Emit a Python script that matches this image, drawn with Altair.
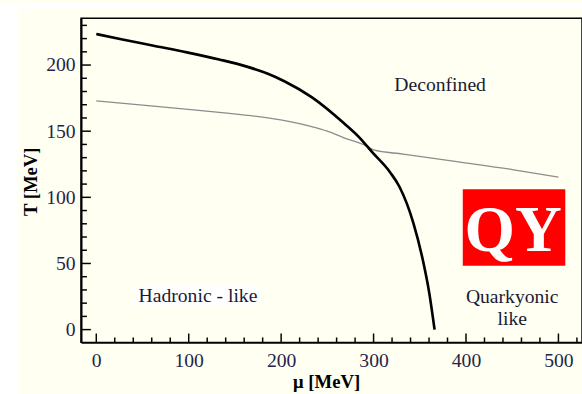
import altair as alt
import pandas as pd

# Deconfinement / chiral boundary (thick black curve)
mu_thick = [0, 27, 62, 98, 133, 162, 185, 204, 233, 268, 285, 298, 318, 328, 343, 353, 360, 366]
t_thick = [223.5, 219.5, 214.6, 209.6, 204.2, 199, 193.6, 187.6, 175.8, 156, 145, 134.5, 118.8, 108, 80.7, 53.5, 28.7, 0]

# Second transition line (thin grey curve)
mu_thin = [0, 62, 108, 133, 180, 204, 233, 250, 268, 293, 300, 332, 392, 450, 500]
t_thin = [173, 169, 166, 164.2, 160.6, 158, 153.5, 150, 145, 138.5, 135.8, 132.7, 126.8, 121, 115.3]

# Axis ticks
x_major = [0, 100, 200, 300, 400, 500]
x_minor = [20, 40, 60, 80, 120, 140, 160, 180, 220, 240, 260, 280,
           320, 340, 360, 380, 420, 440, 460, 480, 520]
y_major = [0, 50, 100, 150, 200]
y_minor = [10, 20, 30, 40, 60, 70, 80, 90, 110, 120, 130, 140,
           160, 170, 180, 190, 210, 220, 230]

# Region labels
lab_text = ["Deconfined", "Hadronic - like", "Quarkyonic", "like"]
lab_mu = [372, 110, 450, 450]
lab_t = [184.5, 25.3, 24.5, 7.7]

W, H = 510, 330
CREAM = "#FFFFF2"
SERIF = "Liberation Serif"
LABEL_COLOR = "#24244a"

xs = alt.Scale(domain=[-16.5, 525.5], nice=False, zero=False)
ys = alt.Scale(domain=[-9.65, 235.4], nice=False, zero=False)

thick = pd.DataFrame({"mu": mu_thick, "T": t_thick})
thin = pd.DataFrame({"mu": mu_thin, "T": t_thin})
labels = pd.DataFrame({"text": lab_text, "mu": lab_mu, "T": lab_t})
one = pd.DataFrame({"k": [0]})

x_axis = alt.Axis(
    values=x_major, ticks=False, grid=False, domainColor="black", domainWidth=2,
    labelFont=SERIF, labelFontSize=20, labelColor=LABEL_COLOR, labelPadding=9,
    title="μ [MeV]", titleFont=SERIF, titleFontSize=19, titleFontWeight="bold",
    titleColor="black", titleX=249.5, titleY=46, titleAlign="center",
    titleBaseline="alphabetic", zindex=1,
)
y_axis = alt.Axis(
    values=y_major, ticks=False, grid=False, domainColor="black", domainWidth=2,
    labelFont=SERIF, labelFontSize=20, labelColor=LABEL_COLOR, labelPadding=6,
    title="T [MeV]", titleFont=SERIF, titleFontSize=19, titleFontWeight="bold",
    titleColor="black", titleX=-51, titleY=166, titleAlign="center",
    titleBaseline="middle", titleAngle=270, zindex=1,
)

# white margins outside the cream page
margin_left = alt.Chart(one).mark_rect(color="white").encode(
    x=alt.value(-83), x2=alt.value(-64.5), y=alt.value(-15), y2=alt.value(400)
)
margin_top = alt.Chart(one).mark_rect(color="white").encode(
    x=alt.value(-83), x2=alt.value(600), y=alt.value(-15), y2=alt.value(-10)
)

thin_line = alt.Chart(thin).mark_line(
    color="#8c8c8c", strokeWidth=1.3, interpolate="monotone"
).encode(
    x=alt.X("mu:Q", scale=xs, axis=x_axis),
    y=alt.Y("T:Q", scale=ys, axis=y_axis),
    order="mu:Q",
)
thick_line = alt.Chart(thick).mark_line(
    color="black", strokeWidth=2.7, interpolate="monotone"
).encode(
    x=alt.X("mu:Q", scale=xs), y=alt.Y("T:Q", scale=ys), order="mu:Q"
)

# inward-pointing ticks
xt_major = alt.Chart(pd.DataFrame({"v": x_major})).mark_rule(color="black", strokeWidth=1.5).encode(
    x=alt.X("v:Q", scale=xs), y=alt.value(H), y2=alt.value(H - 9)
)
xt_minor = alt.Chart(pd.DataFrame({"v": x_minor})).mark_rule(color="black", strokeWidth=1.5).encode(
    x=alt.X("v:Q", scale=xs), y=alt.value(H), y2=alt.value(H - 5)
)
yt_major = alt.Chart(pd.DataFrame({"v": y_major})).mark_rule(color="black", strokeWidth=1.5).encode(
    y=alt.Y("v:Q", scale=ys), x=alt.value(0), x2=alt.value(10)
)
yt_minor = alt.Chart(pd.DataFrame({"v": y_minor})).mark_rule(color="black", strokeWidth=1.5).encode(
    y=alt.Y("v:Q", scale=ys), x=alt.value(0), x2=alt.value(6)
)

# white box behind the hadronic label
had_box = alt.Chart(pd.DataFrame({"m1": [41.2], "m2": [177.7], "t1": [18.6], "t2": [32.7]})).mark_rect(
    color="white"
).encode(
    x=alt.X("m1:Q", scale=xs), x2="m2", y=alt.Y("t1:Q", scale=ys), y2="t2"
)

region_text = alt.Chart(labels).mark_text(
    font=SERIF, fontSize=20, color="#1a1a36", align="center", baseline="middle"
).encode(x=alt.X("mu:Q", scale=xs), y=alt.Y("T:Q", scale=ys), text="text:N")

# QY badge
qy_box = alt.Chart(pd.DataFrame({"m1": [396.5], "m2": [507.4], "t1": [48.3], "t2": [106.2]})).mark_rect(
    color="#FF0000"
).encode(
    x=alt.X("m1:Q", scale=xs), x2="m2", y=alt.Y("t1:Q", scale=ys), y2="t2"
)
qy_text = alt.Chart(pd.DataFrame({"text": ["QY"], "mu": [451], "T": [59.6]})).mark_text(
    font=SERIF, fontSize=66, fontWeight="bold", color="white", align="center", baseline="alphabetic"
).encode(x=alt.X("mu:Q", scale=xs), y=alt.Y("T:Q", scale=ys), text="text:N")

chart = alt.layer(
    margin_left, margin_top, thin_line, thick_line,
    xt_major, xt_minor, yt_major, yt_minor,
    had_box, region_text, qy_box, qy_text,
).properties(
    width=W, height=H, background=CREAM,
    autosize=alt.AutoSizeParams(type="none"),
    padding={"left": 82.5, "top": 15, "right": 0, "bottom": 49},
).configure_view(
    fill=CREAM, stroke="black", strokeWidth=1.5
)

chart.save("out.html", embed_options={"renderer": "svg", "actions": False})
